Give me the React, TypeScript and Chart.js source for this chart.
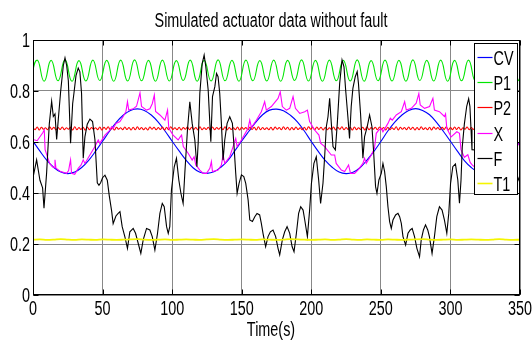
import React, { useEffect, useRef } from "react";
import { Chart, registerables } from "chart.js";

Chart.register(...registerables);

const W = 532;
const H = 343;

const titleText = "Simulated actuator data without fault";
const xLabelText = "Time(s)";
const xTicks = [0, 50, 100, 150, 200, 250, 300, 350];
const yTicks = [0, 0.2, 0.4, 0.6, 0.8, 1];
const yTickLabels = ["0", "0.2", "0.4", "0.6", "0.8", "1"];
const seriesLabels = ["CV", "P1", "P2", "X", "F", "T1"];
const seriesColors = ["#0000ff", "#00e600", "#ff0000", "#ff00ff", "#000000", "#f5f500"];

// CV sampled every 5 s from t = 0
const cvStep = 5;
const cvVals = [
  0.603, 0.564, 0.528, 0.5, 0.482, 0.476, 0.482, 0.5, 0.528, 0.564,
  0.603, 0.642, 0.678, 0.706, 0.724, 0.73, 0.724, 0.706, 0.678, 0.642,
  0.603, 0.565, 0.529, 0.499, 0.481, 0.477, 0.483, 0.501, 0.527, 0.565,
  0.604, 0.641, 0.677, 0.707, 0.725, 0.729, 0.723, 0.705, 0.679, 0.643,
  0.602, 0.563, 0.528, 0.501, 0.482, 0.476, 0.481, 0.499, 0.529, 0.563,
  0.602, 0.643, 0.678, 0.705, 0.724, 0.731, 0.724, 0.707, 0.677, 0.641,
  0.603, 0.564, 0.527, 0.5, 0.482, 0.477, 0.482, 0.5, 0.528, 0.565, 0.603,
];

// P1 extremes every 5 s starting at t = -2 (trough, peak, trough, ...)
const p1Start = -2;
const p1Step = 5;
const p1Vals = [
  0.839, 0.921, 0.838, 0.92, 0.84, 0.922, 0.838, 0.919, 0.839, 0.921,
  0.841, 0.92, 0.838, 0.921, 0.839, 0.922, 0.84, 0.92, 0.838, 0.921,
  0.839, 0.919, 0.841, 0.921, 0.838, 0.92, 0.839, 0.922, 0.84, 0.92,
  0.838, 0.921, 0.84, 0.919, 0.839, 0.921, 0.838, 0.92, 0.841, 0.922,
  0.839, 0.92, 0.838, 0.921, 0.84, 0.92, 0.839, 0.922, 0.838, 0.919,
  0.84, 0.921, 0.839, 0.92, 0.838, 0.922, 0.841, 0.92, 0.839, 0.921,
  0.838, 0.92, 0.84, 0.921, 0.839, 0.919, 0.838, 0.921, 0.84, 0.92,
  0.839, 0.921,
];

// P2 small ripple every 1.5 s from t = 0
const p2Step = 1.5;
const p2Vals = [
  0.657, 0.648, 0.659, 0.647, 0.658, 0.65, 0.656, 0.648, 0.66, 0.649,
  0.658, 0.647, 0.657, 0.649, 0.659, 0.648, 0.656, 0.65, 0.658, 0.647,
  0.66, 0.648, 0.657, 0.649, 0.658, 0.646, 0.659, 0.648, 0.657, 0.65,
  0.656, 0.648, 0.659, 0.647, 0.658, 0.649, 0.66, 0.648, 0.657, 0.647,
  0.658, 0.65, 0.656, 0.648, 0.659, 0.649, 0.657, 0.647, 0.658, 0.648,
  0.66, 0.649, 0.657, 0.648, 0.656, 0.647, 0.659, 0.65, 0.658, 0.648,
  0.657, 0.649, 0.659, 0.647, 0.658, 0.648, 0.66, 0.649, 0.656, 0.648,
  0.658, 0.647, 0.657, 0.65, 0.659, 0.648, 0.658, 0.649, 0.657, 0.647,
  0.66, 0.648, 0.656, 0.649, 0.658, 0.647, 0.659, 0.648, 0.657, 0.65,
  0.658, 0.648, 0.66, 0.647, 0.657, 0.649, 0.656, 0.648, 0.659, 0.647,
  0.658, 0.65, 0.657, 0.648, 0.659, 0.649, 0.658, 0.647, 0.66, 0.648,
  0.657, 0.649, 0.656, 0.648, 0.658, 0.647, 0.659, 0.65, 0.657, 0.648,
  0.66, 0.649, 0.658, 0.647, 0.657, 0.648, 0.659, 0.649, 0.656, 0.648,
  0.658, 0.647, 0.66, 0.65, 0.657, 0.648, 0.659, 0.649, 0.658, 0.647,
  0.657, 0.648, 0.656, 0.649, 0.659, 0.647, 0.658, 0.65, 0.66, 0.648,
  0.657, 0.649, 0.658, 0.647, 0.659, 0.648, 0.656, 0.649, 0.658, 0.647,
  0.66, 0.648, 0.657, 0.65, 0.658, 0.648, 0.659, 0.649, 0.657, 0.647,
  0.658, 0.648, 0.656, 0.649, 0.66, 0.647, 0.658, 0.65, 0.657, 0.648,
  0.659, 0.649, 0.658, 0.647, 0.657, 0.648, 0.66, 0.649, 0.656, 0.648,
  0.658, 0.647, 0.659, 0.65, 0.657, 0.648, 0.658, 0.649, 0.66, 0.647,
  0.657, 0.648, 0.659, 0.649, 0.658, 0.647, 0.656, 0.65, 0.659, 0.648,
  0.657, 0.649, 0.658, 0.647, 0.66, 0.648, 0.657, 0.649, 0.658, 0.647,
  0.659, 0.648, 0.657, 0.65, 0.658,
];

// X (time, value)
const xSamples: [number, number][] = [
  [0, 0.61], [3, 0.605], [6.9, 0.635], [8.1, 0.647], [8.7, 0.57], [10.5, 0.54], [12, 0.516], [14, 0.503],
  [15.2, 0.5], [15.8, 0.53], [16.5, 0.497], [19.9, 0.484], [24.2, 0.477], [25.6, 0.488], [26.3, 0.51],
  [27, 0.53], [27.7, 0.477], [30, 0.473], [32.5, 0.497], [34.6, 0.51], [36.1, 0.53], [37.3, 0.516],
  [40.9, 0.549], [44.5, 0.582], [46.9, 0.608], [48, 0.595], [51.7, 0.627], [55, 0.645], [56.5, 0.66],
  [57.5, 0.652], [59.6, 0.673], [62.5, 0.68], [64.8, 0.7], [66.8, 0.72], [67.9, 0.758], [68.8, 0.725],
  [72, 0.73], [74.4, 0.74], [75.6, 0.765], [76.9, 0.793], [78, 0.739], [81.6, 0.725], [84, 0.73],
  [85.7, 0.75], [87.2, 0.784], [88.1, 0.72], [91.2, 0.706], [94.8, 0.686], [95.8, 0.706], [96.7, 0.725],
  [97.6, 0.654], [100.7, 0.627], [104.3, 0.608], [105.8, 0.62], [106.8, 0.627], [108, 0.582],
  [111.5, 0.556], [114.4, 0.529], [115.8, 0.542], [117, 0.51], [119.9, 0.49], [122.3, 0.477],
  [124.7, 0.477], [127.1, 0.497], [128.2, 0.523], [129, 0.484], [133, 0.49], [135.4, 0.51],
  [136.6, 0.549], [137.8, 0.516], [141.4, 0.542], [143.8, 0.582], [145.7, 0.614], [146.7, 0.582],
  [149.8, 0.608], [154.6, 0.654], [155.8, 0.686], [157, 0.657], [160.6, 0.686], [164.1, 0.719],
  [166.5, 0.758], [167.7, 0.725], [171.3, 0.739], [176.1, 0.771], [177.7, 0.797], [179.2, 0.739],
  [182.1, 0.725], [184.5, 0.732], [186.9, 0.778], [188.6, 0.732], [191.7, 0.712], [195.3, 0.719],
  [197.2, 0.725], [198.8, 0.68], [202.4, 0.647], [205.5, 0.627], [206.7, 0.595], [209.6, 0.582],
  [214.4, 0.549], [216.8, 0.549], [217.9, 0.516], [221.6, 0.49], [224, 0.484], [226.8, 0.51],
  [228.2, 0.477], [231.1, 0.477], [233.5, 0.49], [237.1, 0.516], [238.3, 0.536], [239.5, 0.516],
  [243.1, 0.549], [245.4, 0.575], [246.7, 0.634], [248.6, 0.647], [250.3, 0.654], [251.5, 0.64],
  [255.1, 0.673], [256.8, 0.693], [258.2, 0.686], [261.1, 0.706], [264.7, 0.719], [267.1, 0.758],
  [268.3, 0.725], [271.9, 0.732], [275.4, 0.752], [277.3, 0.79], [278.3, 0.745], [281.4, 0.732],
  [285, 0.739], [287.4, 0.771], [288.5, 0.725], [292.1, 0.719], [295.7, 0.7], [296.5, 0.71],
  [297.4, 0.654], [300.5, 0.62], [304.6, 0.64], [306.5, 0.634], [307.6, 0.57], [310, 0.54],
  [312.5, 0.55], [314.2, 0.52], [315.6, 0.51], [320, 0.49], [325, 0.48], [330, 0.48], [335, 0.5],
  [340, 0.53], [345, 0.56], [350, 0.6],
];

// F (time, value)
const fSamples: [number, number][] = [
  [0, 0.46], [2.6, 0.53], [5, 0.45], [6.9, 0.42], [7.9, 0.34], [9.8, 0.48], [11.7, 0.67], [13.4, 0.76],
  [14.6, 0.7], [15.8, 0.71], [17, 0.61], [18.2, 0.69], [19.9, 0.8], [21.8, 0.9], [23, 0.93], [24.2, 0.9],
  [25.4, 0.84], [27, 0.595], [28.5, 0.75], [29.4, 0.79], [30.9, 0.86], [32.5, 0.89], [33.7, 0.875],
  [34.9, 0.79], [36.1, 0.536], [37.3, 0.62], [39, 0.67], [40.9, 0.69], [42.8, 0.68], [44.5, 0.61],
  [46.2, 0.44], [47.4, 0.43], [48.6, 0.44], [50, 0.46], [51.7, 0.47], [53.4, 0.45], [54.8, 0.39],
  [56.5, 0.33], [57.6, 0.28], [59.6, 0.31], [61.2, 0.32], [62.5, 0.327], [64.1, 0.268], [66, 0.229],
  [67.9, 0.183], [69.6, 0.248], [72, 0.261], [73.7, 0.242], [75.6, 0.203], [77.5, 0.163], [79.2, 0.216],
  [81.6, 0.261], [84, 0.255], [85.7, 0.229], [87.6, 0.176], [89.5, 0.242], [91.2, 0.32], [92.9, 0.359],
  [94.3, 0.346], [96, 0.268], [97.2, 0.242], [98.3, 0.268], [99.5, 0.412], [101.5, 0.503], [103.1, 0.536],
  [104.8, 0.451], [106.3, 0.399], [107.9, 0.359], [109.1, 0.477], [111, 0.647], [112.7, 0.758],
  [114.4, 0.673], [116.3, 0.608], [117.8, 0.503], [118.7, 0.595], [119.9, 0.791], [121.6, 0.908],
  [123, 0.941], [124.2, 0.895], [125.9, 0.804], [127.1, 0.673], [127.8, 0.601], [129, 0.778],
  [130.7, 0.817], [131.9, 0.869], [133, 0.856], [134.2, 0.791], [135.4, 0.673], [136.6, 0.529],
  [137.8, 0.608], [139.5, 0.673], [141.4, 0.699], [143.3, 0.673], [144.5, 0.582], [145.7, 0.477],
  [146.7, 0.399], [148.1, 0.438], [149.8, 0.471], [151.5, 0.464], [152.9, 0.438], [154.6, 0.373],
  [155.8, 0.294], [157.7, 0.288], [159.4, 0.307], [161, 0.32], [162.9, 0.314], [164.1, 0.281],
  [165.3, 0.242], [167.2, 0.19], [168.9, 0.229], [170.6, 0.248], [172.5, 0.255], [174.4, 0.229],
  [176.1, 0.183], [177.3, 0.157], [179.2, 0.216], [180.9, 0.248], [182.6, 0.268], [184.5, 0.242],
  [186.2, 0.19], [187.6, 0.17], [189.3, 0.242], [190.9, 0.32], [192.4, 0.346], [194.1, 0.333],
  [195.3, 0.294], [197.2, 0.229], [198.8, 0.333], [200.1, 0.438], [201.9, 0.516], [203.6, 0.542],
  [205.3, 0.451], [206.7, 0.359], [208.4, 0.438], [209.6, 0.542], [210.8, 0.66], [212, 0.699],
  [213.2, 0.771], [214.4, 0.673], [215.6, 0.582], [217.3, 0.569], [218.7, 0.673], [220.4, 0.83],
  [222.1, 0.922], [223.5, 0.895], [224.7, 0.804], [226.3, 0.699], [227.5, 0.614], [228.7, 0.739],
  [229.9, 0.81], [231.6, 0.856], [233, 0.876], [233.9, 0.83], [235.4, 0.712], [237.1, 0.536],
  [238.3, 0.621], [240.2, 0.66], [241.9, 0.706], [243.6, 0.66], [244.8, 0.562], [246.2, 0.425],
  [247.2, 0.399], [248.6, 0.451], [250.3, 0.477], [251.5, 0.516], [252.7, 0.484], [253.9, 0.425],
  [255.1, 0.346], [256.3, 0.288], [257.5, 0.261], [258.7, 0.294], [260.6, 0.314], [262.3, 0.32],
  [263.5, 0.307], [264.7, 0.281], [265.9, 0.229], [267.8, 0.196], [269.5, 0.242], [271.1, 0.255],
  [272.5, 0.261], [274.2, 0.229], [275.9, 0.183], [277.8, 0.15], [279, 0.216], [280.6, 0.255],
  [282.1, 0.275], [283.7, 0.255], [284.9, 0.229], [286.8, 0.163], [288.5, 0.229], [290.2, 0.307],
  [292.1, 0.346], [294, 0.333], [295.7, 0.294], [297.4, 0.242], [298.8, 0.32], [300.1, 0.438],
  [301.7, 0.503], [303.6, 0.514], [305.3, 0.451], [306.5, 0.36], [307.6, 0.45], [308.5, 0.58],
  [310, 0.67], [311.7, 0.74], [313.1, 0.77], [314, 0.74], [314.8, 0.65], [315.5, 0.57], [317.3, 0.569],
  [318.7, 0.673], [320.4, 0.83], [322.1, 0.92], [323.5, 0.895], [324.7, 0.8], [326.3, 0.7], [327.5, 0.61],
  [328.7, 0.74], [329.9, 0.81], [331.6, 0.856], [333, 0.876], [333.9, 0.83], [335.4, 0.71], [337.1, 0.536],
  [338.3, 0.62], [340.2, 0.66], [341.9, 0.706], [343.5, 0.686], [344.8, 0.562], [346.2, 0.45],
  [347.2, 0.43], [348.6, 0.45], [350, 0.47],
];

// T1 sampled every 5 s from t = 0
const t1Step = 5;
const t1Vals = [
  0.217, 0.218, 0.216, 0.217, 0.219, 0.217, 0.216, 0.218, 0.217, 0.216,
  0.218, 0.217, 0.216, 0.217, 0.218, 0.219, 0.217, 0.216, 0.217, 0.218,
  0.216, 0.217, 0.218, 0.217, 0.216, 0.218, 0.219, 0.217, 0.216, 0.217,
  0.218, 0.217, 0.216, 0.218, 0.217, 0.216, 0.217, 0.219, 0.218, 0.217,
  0.216, 0.217, 0.218, 0.216, 0.217, 0.219, 0.217, 0.216, 0.218, 0.217,
  0.216, 0.218, 0.217, 0.216, 0.217, 0.218, 0.219, 0.217, 0.216, 0.217,
  0.218, 0.216, 0.217, 0.218, 0.217, 0.216, 0.217, 0.219, 0.217, 0.216,
  0.217,
];

const FONT = "20px 'Liberation Sans', Arial, Helvetica, sans-serif";
const SX = 0.72;

function drawText(ctx: CanvasRenderingContext2D, txt: string, x: number, y: number, align: CanvasTextAlign) {
  ctx.save();
  ctx.translate(x, y);
  ctx.scale(SX, 1);
  ctx.textAlign = align;
  ctx.textBaseline = "alphabetic";
  ctx.fillText(txt, 0, 0);
  ctx.restore();
}

const decorPlugin = {
  id: "matlabDecor",
  afterDraw(chart: any) {
    const ctx: CanvasRenderingContext2D = chart.ctx;
    const a = chart.chartArea;
    const xs = chart.scales.x;
    const ys = chart.scales.y;
    const L = Math.round(a.left) + 0.5;
    const R = Math.round(a.right) - 0.5;
    const T = Math.round(a.top) + 0.5;
    const B = Math.round(a.bottom) - 0.5;
    ctx.save();
    ctx.strokeStyle = "#000";
    ctx.lineWidth = 1;
    // ticks (inward, both sides)
    ctx.beginPath();
    xTicks.forEach((v) => {
      const px = Math.round(xs.getPixelForValue(v)) + 0.5;
      ctx.moveTo(px, B);
      ctx.lineTo(px, B - 5);
      ctx.moveTo(px, T);
      ctx.lineTo(px, T + 5);
    });
    yTicks.forEach((v) => {
      const py = Math.round(ys.getPixelForValue(v)) + 0.5;
      ctx.moveTo(L, py);
      ctx.lineTo(L + 5, py);
      ctx.moveTo(R, py);
      ctx.lineTo(R - 5, py);
    });
    ctx.stroke();
    // box
    ctx.strokeRect(L, T, R - L, B - T);

    ctx.fillStyle = "#000";
    ctx.font = FONT;
    xTicks.forEach((v) => {
      drawText(ctx, String(v), xs.getPixelForValue(v), a.bottom + 20, "center");
    });
    yTicks.forEach((v, i) => {
      drawText(ctx, yTickLabels[i], a.left - 3, ys.getPixelForValue(v) + 7, "right");
    });
    drawText(ctx, titleText, 271, 27, "center");
    drawText(ctx, xLabelText, 271, 336, "center");

    // legend box inside top-right of the axes
    const bw = 43;
    const bh = 151;
    const bx = Math.round(a.right - 3 - bw) + 0.5;
    const by = Math.round(a.top + 2.5) + 0.5;
    ctx.fillStyle = "#fff";
    ctx.fillRect(bx, by, bw, bh);
    ctx.strokeStyle = "#000";
    ctx.lineWidth = 1;
    ctx.strokeRect(bx, by, bw, bh);
    seriesLabels.forEach((label, i) => {
      const y = Math.round(by + 13.5 + i * 25.2) + 0.5;
      ctx.save();
      ctx.strokeStyle = seriesColors[i];
      ctx.lineWidth = i === 5 ? 1.6 : 1.2;
      ctx.beginPath();
      ctx.moveTo(bx + 3, y);
      ctx.lineTo(bx + 18, y);
      ctx.stroke();
      ctx.restore();
      ctx.fillStyle = "#000";
      drawText(ctx, label, bx + 19, y + 7.5, "left");
    });
    ctx.restore();
  },
};

export default function App() {
  const ref = useRef<HTMLCanvasElement | null>(null);

  useEffect(() => {
    if (!ref.current) return;
    const cvData = cvVals.map((v, i) => ({ x: i * cvStep, y: v }));
    const p1Data = p1Vals.map((v, i) => ({ x: p1Start + i * p1Step, y: v }));
    const p2Data = p2Vals.map((v, i) => ({ x: i * p2Step, y: v }));
    const xData = xSamples.map(([t, v]) => ({ x: t, y: v }));
    const fData = fSamples.map(([t, v]) => ({ x: t, y: v }));
    const t1Data = t1Vals.map((v, i) => ({ x: i * t1Step, y: v }));
    const all = [cvData, p1Data, p2Data, xData, fData, t1Data];
    const tensions = [0.4, 0.5, 0.4, 0, 0, 0.3];

    const chart = new Chart(ref.current, {
      type: "line",
      data: {
        datasets: seriesLabels.map((label, i) => ({
          label,
          data: all[i],
          borderColor: seriesColors[i],
          backgroundColor: seriesColors[i],
          borderWidth: i === 5 ? 1.8 : 1.1,
          pointRadius: 0,
          tension: tensions[i],
          fill: false,
          order: 6 - i,
        })),
      },
      options: {
        animation: false,
        responsive: false,
        devicePixelRatio: 1,
        events: [],
        layout: { padding: { left: 33, top: 40, right: 12, bottom: 48 } },
        plugins: {
          legend: { display: false },
          title: { display: false },
          tooltip: { enabled: false },
        },
        scales: {
          x: {
            type: "linear",
            min: 0,
            max: 350,
            ticks: { display: false, stepSize: 50 },
            grid: { color: "#888888", lineWidth: 1, drawTicks: false },
            border: { display: false },
          },
          y: {
            type: "linear",
            min: 0,
            max: 1,
            ticks: { display: false, stepSize: 0.2 },
            grid: { color: "#888888", lineWidth: 1, drawTicks: false },
            border: { display: false },
          },
        },
      },
      plugins: [decorPlugin],
    });
    return () => chart.destroy();
  }, []);

  return (
    <div style={{ position: "fixed", left: 0, top: 0, width: W, height: H, background: "#fff" }}>
      <canvas ref={ref} width={W} height={H} style={{ display: "block", width: W, height: H }} />
    </div>
  );
}
